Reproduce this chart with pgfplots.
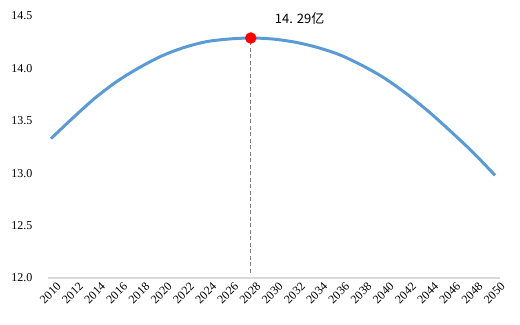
\documentclass[border=0pt]{standalone}
\usepackage{pgfplots}
\pgfplotsset{compat=1.18}
\usepackage{fontspec}
\setmainfont{Liberation Serif}
\newfontfamily\cjk{Noto Sans CJK SC}
\definecolor{lineblue}{RGB}{91,155,213}
\begin{document}
\begin{tikzpicture}
\begin{axis}[
  scale only axis,
  width=452pt, height=262pt,
  xmin=2009.73, xmax=2050.45,
  ymin=12, ymax=14.5,
  axis lines*=left,
  y axis line style={draw=none},
  x axis line style={draw=black!15, line width=1.3pt},
  tick style={draw=none},
  xtick={2010,2012,...,2050},
  xticklabels={2010,2012,2014,2016,2018,2020,2022,2024,2026,2028,2030,2032,2034,2036,2038,2040,2042,2044,2046,2048,2050},
  ytick={12,12.5,13,13.5,14,14.5},
  yticklabels={12.0,12.5,13.0,13.5,14.0,14.5},
  xticklabel style={rotate=45, anchor=north east, font=\fontsize{12}{14}\selectfont, inner sep=1pt, yshift=-5pt, xshift=2pt},
  yticklabel style={font=\fontsize{12}{14}\selectfont, xshift=-12pt},
  clip=false,
]
\addplot[color=lineblue, line width=3pt, smooth, tension=0.5] coordinates {
(2010,13.33)(2012,13.53)(2014,13.72)(2016,13.88)(2018,14.01)(2020,14.12)
(2022,14.20)(2024,14.255)(2026,14.28)(2028,14.29)(2030,14.28)(2032,14.25)
(2034,14.20)(2036,14.13)(2038,14.03)(2040,13.91)(2042,13.76)(2044,13.59)
(2046,13.40)(2048,13.20)(2050,12.98)
};
\addplot[color=black!50, dash pattern=on 4pt off 2.5pt, line width=0.9pt] coordinates {(2028,12.05)(2028,14.29)};
\addplot[only marks, mark=*, mark size=5.5pt, color=red, fill=red] coordinates {(2028,14.29)};
\node[font=\cjk\fontsize{13}{15}\selectfont] at (axis cs:2032.4,14.48) {14. 29亿};
\end{axis}
\pgfresetboundingbox
\path ([xshift=-48pt,yshift=-47pt]current axis.south west) rectangle ([xshift=20pt,yshift=16pt]current axis.north east);
\end{tikzpicture}
\end{document}
